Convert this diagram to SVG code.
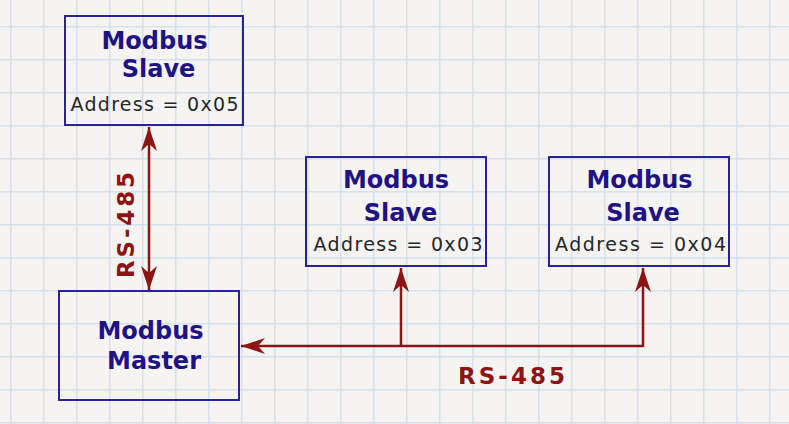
<svg xmlns="http://www.w3.org/2000/svg" width="789" height="424" viewBox="0 0 789 424">
<style>
.box{fill:none;stroke:#2b2298;stroke-width:2}
.title{font-family:"DejaVu Sans",sans-serif;font-weight:bold;font-size:24px;fill:#1f1282;text-anchor:middle}
.addr{font-family:"DejaVu Sans",sans-serif;font-size:19px;fill:#262626;text-anchor:middle}
.wire{fill:none;stroke:#8b1414;stroke-width:2.5}
.lbl{font-family:"DejaVu Sans",sans-serif;font-weight:bold;font-size:23px;fill:#8b1414;text-anchor:middle}
</style>
<defs>
<pattern id="grid" x="10" y="26" width="33" height="33" patternUnits="userSpaceOnUse">
<path d="M0.75,0 V33 M0,0.75 H33" stroke="#d3e2ec" stroke-width="1.5" fill="none"/>
</pattern>
<marker id="ah" markerUnits="userSpaceOnUse" markerWidth="30" markerHeight="20" viewBox="-25 -10 30 20" refX="0" refY="0" orient="auto-start-reverse">
<path d="M0,0 L-24,-8 L-17,0 L-24,8 Z" fill="#8b1414"/>
</marker>
</defs>
<rect width="789" height="424" fill="#f5f4f2"/>
<rect width="789" height="424" fill="url(#grid)"/>

<g id="connectors">
<line class="wire" x1="149" y1="127" x2="149" y2="290" marker-start="url(#ah)" marker-end="url(#ah)"/>
<path class="wire" d="M643,346 H241" marker-end="url(#ah)"/>
<path class="wire" d="M401,346 V268" marker-end="url(#ah)"/>
<path class="wire" d="M643,347 V268" marker-end="url(#ah)"/>
<text class="lbl" x="511.5" y="384" textLength="107">RS-485</text>
<text class="lbl" transform="translate(134,225) rotate(-90)" x="0" y="0" textLength="106">RS-485</text>
</g>

<g id="slave05">
<rect class="box" x="65" y="16" width="178" height="109"/>
<text class="title" x="154.5" y="49">Modbus</text>
<text class="title" x="158.5" y="77">Slave</text>
<text class="addr" x="154.5" y="111" textLength="168">Address = 0x05</text>
</g>

<g id="slave03">
<rect class="box" x="306" y="157" width="180" height="109"/>
<text class="title" x="396" y="188">Modbus</text>
<text class="title" x="400.5" y="221">Slave</text>
<text class="addr" x="398" y="251" textLength="169">Address = 0x03</text>
</g>

<g id="slave04">
<rect class="box" x="549" y="157" width="180" height="109"/>
<text class="title" x="639.5" y="188">Modbus</text>
<text class="title" x="643" y="221">Slave</text>
<text class="addr" x="640.5" y="251" textLength="171">Address = 0x04</text>
</g>

<g id="master">
<rect class="box" x="59" y="291" width="180" height="109"/>
<text class="title" x="150.5" y="339">Modbus</text>
<text class="title" x="154" y="369">Master</text>
</g>
</svg>
